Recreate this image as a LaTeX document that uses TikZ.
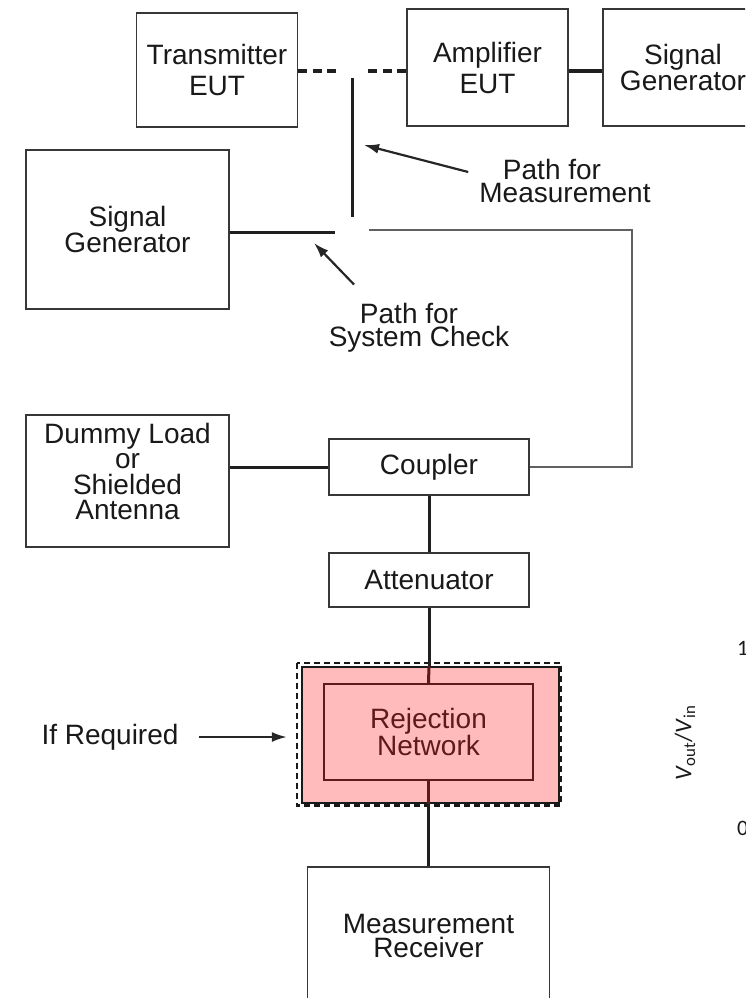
\documentclass[tikz,border=0pt]{standalone}
\usepackage{fontspec}
\setmainfont{Liberation Sans}
\newfontfamily\digitfont{Carlito}
\usetikzlibrary{positioning,arrows.meta}
\definecolor{rejpink}{RGB}{255,187,187}
\definecolor{rejdark}{RGB}{95,25,25}
\definecolor{inkgray}{RGB}{55,55,55}

\begin{document}
\begin{tikzpicture}[x=1pt,y=-1pt,
      blk/.style={draw=inkgray,line width=1.8pt,align=center,inner sep=0pt,text=black!90,
          font=\fontsize{28}{25}\selectfont},
      wire/.style={line width=3pt,draw=black!88},
      thinwire/.style={line width=2.3pt,draw=black!62},
      note/.style={align=center,inner sep=0pt,text=black!90,font=\fontsize{28}{22.5}\selectfont},
      pointer/.style={-{Latex[length=15pt,width=10pt]},line width=2.2pt,draw=black!85,fill=black!85},
      rejline/.style={line width=3pt,draw=rejdark}
]
      \useasboundingbox (0,0) rectangle (745,998);
      \clip (0,0) rectangle (745,998);
      % top row
      \node[blk,minimum width=161pt,minimum height=114pt,font=\fontsize{28}{31}\selectfont] (txeut) at (217,70) {Transmitter\\EUT};
      \node[blk,minimum width=161pt,minimum height=117pt,font=\fontsize{28}{31}\selectfont] (ampeut) at (487.5,67.5) {Amplifier\\EUT};
      \node[blk,minimum width=160pt,minimum height=117pt,font=\fontsize{28}{23}\selectfont] (siggenA) at (683,67.5) {Signal\\Generator};
      % left column
      \node[blk,minimum width=203pt,minimum height=159pt,font=\fontsize{28}{24}\selectfont] (siggenB) at (127.5,229.5) {Signal\\Generator};
      \node[blk,minimum width=203pt,minimum height=132pt,text depth=19pt,font=\fontsize{28}{25.5}\selectfont] (dummy) at (127.5,481) {Dummy Load\\or\\Shielded\\Antenna};
      % receiving chain
      \node[blk,minimum width=200pt,minimum height=56pt] (coupler) at (429,467) {Coupler};
      \node[blk,minimum width=200pt,minimum height=54pt] (atten) at (429,580) {Attenuator};
      \node[draw=black!90,line width=2.2pt,fill=rejpink,minimum width=257pt,minimum height=136pt,inner sep=0pt] (rejshield) at (430.5,735) {};
      \draw[black!90,line width=2.6pt,dash pattern=on 6pt off 4pt] ([shift={(-4,-3)}]rejshield.north west) rectangle ([shift={(0.5,1.5)}]rejshield.south east);
      \node[blk,draw=rejdark,text=rejdark,minimum width=209pt,minimum height=96pt,font=\fontsize{28}{24}\selectfont] (rejnet) at (428.5,732) {Rejection\\Network};
      \node[blk,minimum width=242pt,minimum height=138pt,font=\fontsize{28}{24}\selectfont] (rx) at (428.5,936) {Measurement\\Receiver};

      % switch contacts
      \coordinate (dashL) at (338,71);
      \coordinate (dashR) at (365,71);
      \coordinate (measT) at (352,78);
      \coordinate (measB) at (352,217);
      \coordinate (checkL) at (335,232);
      \coordinate (checkR) at (369,230);
      \coordinate (bendR) at (632,230);

      \draw[wire,dash pattern=on 9pt off 5.5pt] (txeut.east |- dashL) -- (dashL);
      \draw[wire,dash pattern=on 9pt off 5.5pt] (ampeut.west |- dashR) -- (dashR);
      \draw[wire] (ampeut.east |- dashR) -- (siggenA.west |- dashR);
      \draw[wire] (measT) -- (measB);
      \draw[wire] (siggenB.east |- checkL) -- (checkL);
      \draw[thinwire] (checkR) -- (bendR) |- (coupler.east);
      \draw[wire] (dummy.east |- coupler.west) -- (coupler.west);
      \draw[wire] (coupler.south) -- (atten.north);
      \draw[wire] (atten.south) -- (atten.south |- rejshield.north);
      \draw[rejline] (atten.south |- rejshield.north) -- (rejnet.north);
      \draw[rejline] (rejnet.south) -- (rejnet.south |- rejshield.south);
      \draw[wire] (rejnet.south |- rejshield.south) -- (rx.north);

      % notes
      \node[note] (measnote) at (565,181) {\hspace*{-26pt}Path for\\Measurement};
      \coordinate (measTip) at (364,145);
      \draw[pointer] ([shift={(-11,-9)}]measnote.west) -- (measTip);
      \node[note] (checknote) at (419,328) {\hspace*{-20pt}Path for\\System Check};
      \coordinate (checkTip) at (314,243);
      \draw[pointer] ([shift={(-65,-19)}]checknote.north) -- (checkTip);
      \node[note] (ifreq) at (110,737) {If Required};
      \draw[pointer] ([xshift=20]ifreq.east) -- ([xshift=-14]ifreq.east -| rejshield.west);

      % edge of the neighbouring plot
      \node[rotate=90,inner sep=0pt,text=black!90,font=\digitfont\fontsize{24}{24}\selectfont] (ratio) at (685,743) {\textit{V}\textsubscript{out}/\textit{V}\textsubscript{in}};
      \node[anchor=west,inner sep=0pt,text=black!90,font=\digitfont\fontsize{22}{22}\selectfont] (tickone) at (737,648) {1};
      \node[anchor=west,inner sep=0pt,text=black!90,font=\digitfont\fontsize{22}{22}\selectfont] (tickzero) at (737,828) {0};
\end{tikzpicture}
\end{document}
